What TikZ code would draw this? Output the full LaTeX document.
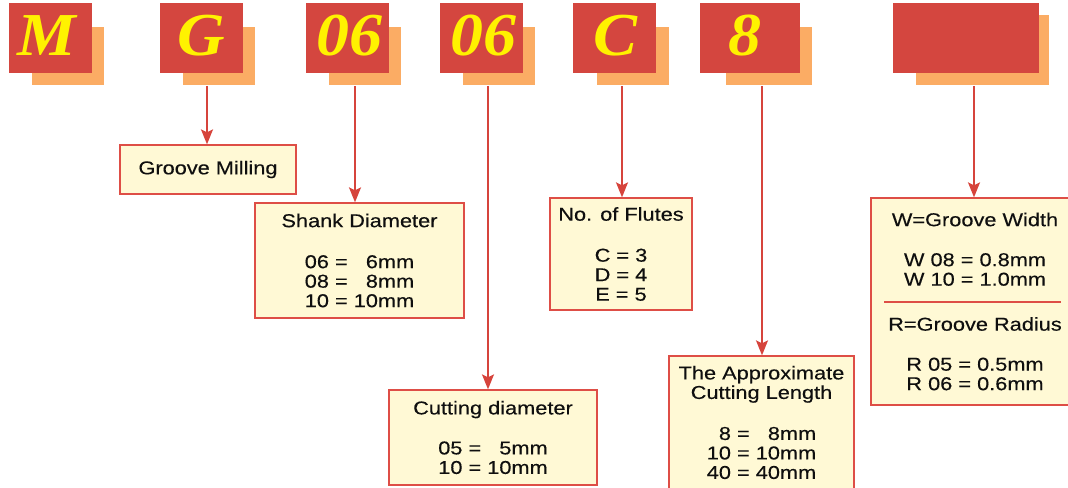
\documentclass[tikz,border=0pt]{standalone}
\usepackage{fontspec}
\setmainfont{Liberation Sans}
\newfontfamily\lbl[FakeStretch=1.17,FakeBold=0.3]{Liberation Sans}
\newfontfamily\hdr[FakeStretch=1.08]{Liberation Serif}
\usetikzlibrary{arrows.meta,calc}
\definecolor{hdrred}{RGB}{212,70,63}
\definecolor{shadowc}{RGB}{251,172,100}
\definecolor{lettery}{RGB}{255,242,0}
\definecolor{boxfill}{RGB}{255,249,213}
\definecolor{boxline}{RGB}{222,78,70}
\definecolor{arrowc}{RGB}{214,68,60}
\definecolor{txt}{RGB}{15,15,15}
\begin{document}
\begin{tikzpicture}[x=1bp,y=-1bp,
  shadowbox/.style={fill=shadowc, draw=none, inner sep=0},
  hdrbox/.style={fill=hdrred, draw=none, inner sep=0, minimum height=70bp},
  letter/.style={text=lettery, font=\hdr\bfseries\itshape\fontsize{61bp}{61bp}\selectfont, anchor=base, inner sep=0},
  infobox/.style={draw=boxline, line width=1.3bp, fill=boxfill, inner sep=0, align=center,
     font=\lbl\fontsize{18.6bp}{19.5bp}\selectfont, text=txt},
  conn/.style={draw=arrowc, line width=1.8bp, -{Stealth[length=15bp,width=12bp,inset=3bp]}}
]
\useasboundingbox (0,0) rectangle (1068,488);
\clip (0,0) rectangle (1068,488);

% shadows
\node[shadowbox, minimum width=72bp, minimum height=58bp] (sM) at (68,56) {};
\node[shadowbox, minimum width=72bp, minimum height=58bp] (sG) at (219,56) {};
\node[shadowbox, minimum width=72bp, minimum height=58bp] (sA) at (365,56) {};
\node[shadowbox, minimum width=72bp, minimum height=58bp] (sB) at (499,56) {};
\node[shadowbox, minimum width=72bp, minimum height=58bp] (sC) at (633,56) {};
\node[shadowbox, minimum width=86bp, minimum height=58bp] (sE) at (769,56) {};
\node[shadowbox, minimum width=133bp, minimum height=70bp] (sW) at (982.5,50) {};

% header boxes
\node[hdrbox, minimum width=83bp] (hM) at (50.5,38) {};
\node[hdrbox, minimum width=83bp] (hG) at (201.5,38) {};
\node[hdrbox, minimum width=83bp] (hA) at (347.5,38) {};
\node[hdrbox, minimum width=83bp] (hB) at (481.5,38) {};
\node[hdrbox, minimum width=83bp] (hC) at (614.5,38) {};
\node[hdrbox, minimum width=100bp] (hE) at (750,38) {};
\node[hdrbox, minimum width=146bp] (hW) at (966,38) {};

% letters
\node[letter] (lM) at (47,56) {M};
\node[letter] (lG) at (201,56) {G};
\node[letter] (lA) at (349,56) {06};
\node[letter] (lB) at (483,56) {06};
\node[letter] (lC) at (615.5,56) {C};
\node[letter] (lE) at (745,56) {8};

% info boxes
\node[infobox, minimum width=176bp, minimum height=49bp] (gm) at (208,169.5) {Groove Milling};
\node[infobox, minimum width=209bp, minimum height=115bp] (sd) at (359.5,260.5)
  {Shank Diameter\\[21.5bp]06 = \hphantom{0}6mm\\08 = \hphantom{0}8mm\\10 = 10mm};
\node[infobox, minimum width=208bp, minimum height=95bp] (cd) at (493,437.5)
  {Cutting diameter\\[20.5bp]05 = \hphantom{0}5mm\\10 = 10mm};
\node[infobox, minimum width=142bp, minimum height=112bp] (nf) at (621,254)
  {No. of Flutes\\[21.5bp]C = 3\\D = 4\\E = 5};
\node[infobox, minimum width=185bp, minimum height=133bp] (cl) at (761.5,422.5)
  {The Approximate\\Cutting Length\\[21.5bp]\hphantom{0}8 = \hphantom{0}8mm\\10 = 10mm\\40 = 40mm};
\node[infobox, minimum width=208bp, minimum height=207bp] (gw) at (975,301.5)
  {W=Groove Width\\[20.5bp]W 08 = 0.8mm\\W 10 = 1.0mm\\[25.5bp]R=Groove Radius\\[20.5bp]R 05 = 0.5mm\\R 06 = 0.6mm};
\draw[draw=boxline, line width=2bp] (884,302) -- (1061,302);

% arrow start points
\coordinate (aG) at (207,86);
\coordinate (aA) at (355,86);
\coordinate (aB) at (488,86);
\coordinate (aC) at (622,86);
\coordinate (aE) at (762,86);
\coordinate (aW) at (974,86);

\draw[conn] (aG) -- (aG |- gm.north);
\draw[conn] (aA) -- (aA |- sd.north);
\draw[conn] (aB) -- (aB |- cd.north);
\draw[conn] (aC) -- (aC |- nf.north);
\draw[conn] (aE) -- (aE |- cl.north);
\draw[conn] (aW) -- (aW |- gw.north);
\end{tikzpicture}
\end{document}
